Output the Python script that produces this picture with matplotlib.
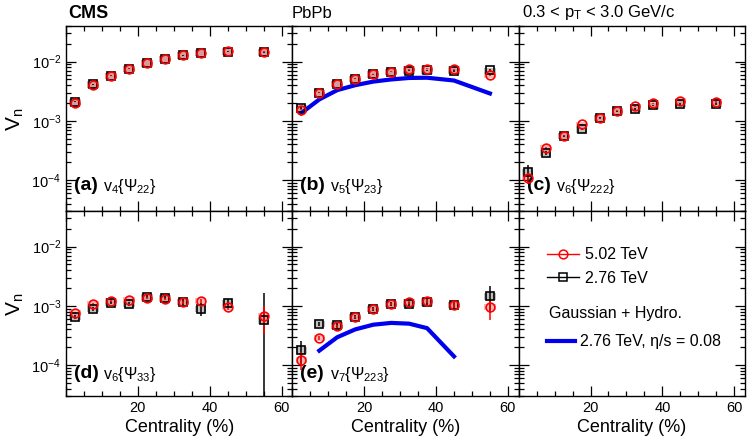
import numpy as np
import matplotlib
matplotlib.use("Agg")
import matplotlib.pyplot as plt
from matplotlib.lines import Line2D
from matplotlib.ticker import MultipleLocator, NullFormatter, LogLocator

plt.rcParams['font.family'] = ['Liberation Sans', 'DejaVu Sans']
plt.rcParams['mathtext.fontset'] = 'custom'
plt.rcParams['mathtext.rm'] = 'Liberation Sans'
plt.rcParams['mathtext.it'] = 'Liberation Sans:italic'
plt.rcParams['mathtext.bf'] = 'Liberation Sans:bold'

# ---------------- data ----------------
cent = [2.5, 7.5, 12.5, 17.5, 22.5, 27.5, 32.5, 37.5, 45, 55]

# (a) v4{Psi22}
v4_502 = [2.0e-3, 4.0e-3, 5.8e-3, 7.6e-3, 9.4e-3, 1.12e-2, 1.28e-2, 1.40e-2, 1.50e-2, 1.47e-2]
v4_276 = [2.1e-3, 4.15e-3, 5.8e-3, 7.6e-3, 9.4e-3, 1.12e-2, 1.28e-2, 1.40e-2, 1.48e-2, 1.44e-2]
e4_502 = [3e-5, 4e-5, 5e-5, 6e-5, 7e-5, 9e-5, 1e-4, 1.2e-4, 1.2e-4, 2e-4]
e4_276 = [4e-5, 5e-5, 6e-5, 7e-5, 8e-5, 1e-4, 1.2e-4, 1.4e-4, 1.5e-4, 3e-4]

# (b) v5{Psi23}
v5_502 = [1.54e-3, 2.99e-3, 4.2e-3, 5.15e-3, 6.1e-3, 6.8e-3, 7.4e-3, 7.6e-3, 7.4e-3, 6.0e-3]
v5_276 = [1.64e-3, 2.99e-3, 4.2e-3, 5.15e-3, 6.1e-3, 6.7e-3, 7.0e-3, 7.1e-3, 6.9e-3, 7.1e-3]
e5_502 = [3e-5, 4e-5, 5e-5, 6e-5, 7e-5, 8e-5, 1e-4, 1.2e-4, 1.5e-4, 3e-4]
e5_276 = [5e-5, 6e-5, 7e-5, 8e-5, 9e-5, 1e-4, 1.3e-4, 1.5e-4, 2e-4, 4e-4]
hydro_b_x = [2.5, 7.5, 12.5, 17.5, 22.5, 27.5, 32.5, 37.5, 45, 55]
hydro_b = [1.35e-3, 2.3e-3, 3.3e-3, 4.0e-3, 4.6e-3, 5.0e-3, 5.3e-3, 5.35e-3, 4.8e-3, 2.9e-3]

# (c) v6{Psi222}
v6a_502 = [1.08e-4, 3.5e-4, 5.6e-4, 8.7e-4, 1.11e-3, 1.47e-3, 1.75e-3, 1.97e-3, 2.2e-3, 2.12e-3]
v6a_276 = [1.36e-4, 2.9e-4, 5.6e-4, 7.2e-4, 1.11e-3, 1.45e-3, 1.58e-3, 1.82e-3, 1.92e-3, 1.92e-3]
e6a_502 = [2.3e-5, 1.5e-5, 1.5e-5, 2e-5, 2e-5, 3e-5, 3e-5, 4e-5, 4e-5, 8e-5]
e6a_276 = [4.6e-5, 2e-5, 2e-5, 2.5e-5, 3e-5, 4e-5, 5e-5, 6e-5, 6e-5, 1e-4]

# (d) v6{Psi33}
v6b_502 = [7.6e-4, 1.07e-3, 1.22e-3, 1.27e-3, 1.36e-3, 1.32e-3, 1.16e-3, 1.2e-3, 9.5e-4, 6.7e-4]
v6b_276 = [6.6e-4, 8.8e-4, 1.13e-3, 1.08e-3, 1.43e-3, 1.38e-3, 1.16e-3, 9.0e-4, 1.13e-3, 5.7e-4]
e6b_502 = [3e-5, 4e-5, 4e-5, 5e-5, 5e-5, 6e-5, 7e-5, 8e-5, 1e-4, 3.4e-4]
e6b_276 = [5e-5, 6e-5, 7e-5, 8e-5, 9e-5, 1e-4, 1.2e-4, 2.2e-4, 2.0e-4, 1.07e-3]

# (e) v7{Psi223}
v7_502 = [1.24e-4, 2.84e-4, 4.55e-4, 6.5e-4, 8.9e-4, 1.08e-3, 1.15e-3, 1.2e-3, 1.04e-3, 9.5e-4]
v7_276 = [1.77e-4, 5.0e-4, 4.7e-4, 6.5e-4, 8.9e-4, 1.08e-3, 1.07e-3, 1.15e-3, 1.04e-3, 1.45e-3]
e7_502 = [4e-5, 2e-5, 2.5e-5, 3e-5, 4e-5, 5e-5, 6e-5, 8e-5, 1.2e-4, 3.7e-4]
e7_276 = [7.5e-5, 4e-5, 4e-5, 5e-5, 6e-5, 8e-5, 1e-4, 1.3e-4, 1.6e-4, 7e-4]
hydro_e_x = [7.5, 12.5, 17.5, 22.5, 27.5, 32.5, 37.5, 45]
hydro_e = [1.75e-4, 2.95e-4, 4.0e-4, 4.8e-4, 5.15e-4, 5.0e-4, 4.2e-4, 1.4e-4]

syst_rel = 0.12

panel_tags = ["(a)", "(b)", "(c)", "(d)", "(e)"]
panel_names = [r"$\mathrm{v_{4}\{Ψ_{22}\}}$", r"$\mathrm{v_{5}\{Ψ_{23}\}}$",
               r"$\mathrm{v_{6}\{Ψ_{222}\}}$", r"$\mathrm{v_{6}\{Ψ_{33}\}}$",
               r"$\mathrm{v_{7}\{Ψ_{223}\}}$"]

RED = '#ff0000'
BLUE = '#0000ee'

fig, axes = plt.subplots(2, 3, figsize=(7.49, 4.41), dpi=100, sharex=True, sharey=True)
fig.subplots_adjust(left=66/749, right=745/749, top=1-26/441, bottom=1-396/441,
                    wspace=0, hspace=0)


def draw_series(ax, v, e, color, marker, fill):
    x = np.array(cent)
    v = np.array(v)
    ax.bar(x, 2 * syst_rel * v, bottom=v * (1 - syst_rel), width=3.2,
           color=fill, alpha=0.55, linewidth=0, zorder=1)
    ax.errorbar(x, v, yerr=e, fmt=marker, color=color, mfc='none', mec=color,
                ms=6.3, mew=1.2, elinewidth=1.1, capsize=0, zorder=3)


data = [(v4_502, e4_502, v4_276, e4_276), (v5_502, e5_502, v5_276, e5_276),
        (v6a_502, e6a_502, v6a_276, e6a_276), (v6b_502, e6b_502, v6b_276, e6b_276),
        (v7_502, e7_502, v7_276, e7_276)]

flat = axes.flatten()
for i, ax in enumerate(flat):
    ax.set_yscale('log', nonpositive='clip')
    ax.set_xlim(0, 63)
    ax.set_ylim(3e-5, 4e-2)
    ax.xaxis.set_major_locator(MultipleLocator(20))
    ax.xaxis.set_minor_locator(MultipleLocator(5))
    ax.yaxis.set_minor_locator(LogLocator(base=10, subs=np.arange(2, 10)))
    ax.yaxis.set_minor_formatter(NullFormatter())
    ax.tick_params(which='both', direction='in', top=True, right=True,
                   labelsize=10.5, width=0.9)
    ax.tick_params(which='major', length=7)
    ax.tick_params(which='minor', length=3.5)
    for s in ax.spines.values():
        s.set_linewidth(1.0)
    if i < 5:
        v502, e502, v276, e276 = data[i]
        draw_series(ax, v276, e276, 'black', 's', '#8c8c8c')
        draw_series(ax, v502, e502, RED, 'o', '#f08080')
        ty = 0.14 if i < 3 else 0.12
        ax.text(0.035, ty, panel_tags[i], transform=ax.transAxes, fontsize=14,
                fontweight='bold', va='center', ha='left')
        ax.text(0.165 if i != 4 else 0.165, ty - 0.005, panel_names[i], transform=ax.transAxes,
                fontsize=11.5, va='center', ha='left')

axes[0, 1].plot(hydro_b_x, hydro_b, color=BLUE, lw=3, zorder=2)
axes[1, 1].plot(hydro_e_x, hydro_e, color=BLUE, lw=3, zorder=2)

for ax in axes[1, :]:
    ax.set_xticks([0, 20, 40, 60])
    ax.set_xticklabels(['', '20', '40', '60'])
    ax.set_xlabel('Centrality (%)', fontsize=13, labelpad=3)

for ax in axes[0, :]:
    ax.tick_params(labelbottom=False)

# legend in panel (f)
axf = axes[1, 2]
h1 = [Line2D([], [], color=RED, marker='o', mfc='none', ms=6.3, mew=1.1, lw=1),
      Line2D([], [], color='black', marker='s', mfc='none', ms=6.3, mew=1.1, lw=1)]
leg1 = axf.legend(h1, ['5.02 TeV', '2.76 TeV'], loc='center left',
                  bbox_to_anchor=(0.125, 0.70), frameon=False, fontsize=11.5,
                  handlelength=2.0, handletextpad=0.4, borderpad=0, borderaxespad=0,
                  labelspacing=0.55)
axf.add_artist(leg1)
axf.text(0.135, 0.446, 'Gaussian + Hydro.', transform=axf.transAxes, fontsize=11.5,
         va='center', ha='left')
h2 = [Line2D([], [], color=BLUE, lw=3)]
axf.legend(h2, ['2.76 TeV, η/s = 0.08'], loc='center left',
           bbox_to_anchor=(0.125, 0.293), frameon=False, fontsize=11.5,
           handlelength=1.75, handletextpad=0.35, borderpad=0, borderaxespad=0)

# y labels
for row, yc in [(0, 1 - 119/441), (1, 1 - 304/441)]:
    fig.text(0.021, yc, r'V$_\mathrm{n}$', rotation=90, fontsize=15,
             va='center', ha='center')

# header
fig.text(68/749, 1 - 13/441, 'CMS', fontsize=13, fontweight='bold', va='center', ha='left')
fig.text(292/749, 1 - 13/441, 'PbPb', fontsize=12, va='center', ha='left')
fig.text(522/749, 1 - 13/441, r'0.3 < p$_\mathrm{T}$ < 3.0 GeV/c', fontsize=12,
         va='center', ha='left')

fig.savefig('out.png', dpi=100)
